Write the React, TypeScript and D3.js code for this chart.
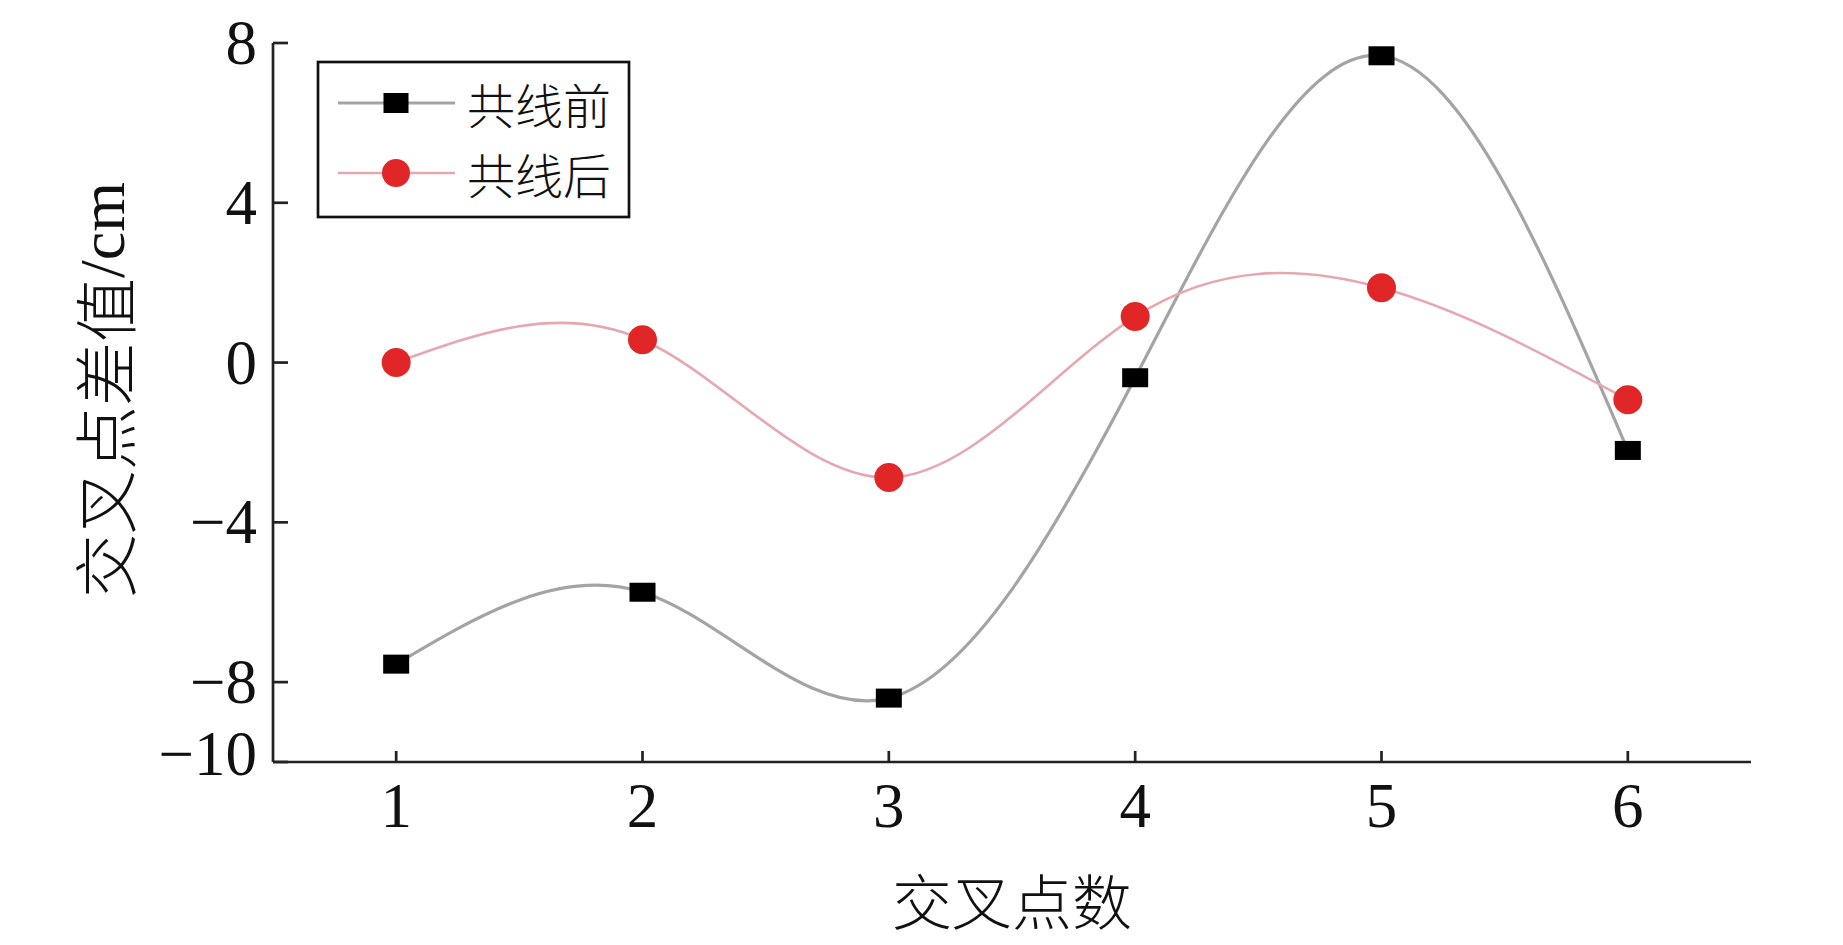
import React from 'react';
import * as d3 from 'd3';

// crossing point index
const points = [1, 2, 3, 4, 5, 6];
// 共线前 (before), cm
const before = [-7.55, -5.75, -8.4, -0.38, 7.68, -2.2];
// 共线后 (after), cm
const after = [0.0, 0.57, -2.88, 1.15, 1.87, -0.93];
const yTicks = [8, 4, 0, -4, -8, -10];

const W = 1843;
const H = 945;
const margin = { left: 273, right: 92, top: 43, bottom: 183 };

const CJK = '"Noto Sans CJK SC", "Noto Sans CJK JP", sans-serif';
const SERIF = '"Liberation Serif", "Times New Roman", serif';

export default function App() {
  const x = d3.scaleLinear().domain([0.5, 6.5]).range([margin.left, W - margin.right]);
  const y = d3.scaleLinear().domain([-10, 8]).range([H - margin.bottom, margin.top]);

  const line = d3
    .line<number>()
    .x((_, i) => x(points[i]))
    .y((d) => y(d))
    .curve(d3.curveNatural);

  const x0 = x.range()[0];
  const x1 = x.range()[1];
  const yb = y.range()[0];
  const yt = y.range()[1];

  const greyLine = '#a4a4a4';
  const pinkLine = '#e6a8b0';
  const red = '#e02626';

  const legend = { x: 318, y: 62, w: 311, h: 155 };
  const rows = [
    { label: '共线前', ly: 103, kind: 'square' },
    { label: '共线后', ly: 173, kind: 'circle' },
  ];

  return (
    <svg width={W} height={H} style={{ position: 'absolute', left: 0, top: 0, background: '#fff' }}>
      {/* series lines */}
      <path d={line(before) ?? ''} fill="none" stroke={greyLine} strokeWidth={3.2} />
      <path d={line(after) ?? ''} fill="none" stroke={pinkLine} strokeWidth={2.6} />

      {/* markers */}
      {before.map((v, i) => (
        <rect key={'b' + i} x={x(points[i]) - 13} y={y(v) - 9.5} width={26} height={19} fill="#000" />
      ))}
      {after.map((v, i) => (
        <circle key={'a' + i} cx={x(points[i])} cy={y(v)} r={14.5} fill={red} />
      ))}

      {/* axes */}
      <line x1={x0} x2={x1} y1={yb} y2={yb} stroke="#222" strokeWidth={2.7} />
      <line x1={x0} x2={x0} y1={yt} y2={yb} stroke="#222" strokeWidth={2.7} />
      {points.map((p) => (
        <g key={'xt' + p}>
          <line x1={x(p)} x2={x(p)} y1={yb} y2={yb - 11} stroke="#222" strokeWidth={2.7} />
          <text
            x={x(p)}
            y={827}
            textAnchor="middle"
            fontFamily={SERIF}
            fontSize={63}
            fill="#111"
          >
            {p}
          </text>
        </g>
      ))}
      {yTicks.map((t) => (
        <g key={'yt' + t}>
          <line x1={x0} x2={x0 + 15} y1={y(t)} y2={y(t)} stroke="#222" strokeWidth={2.7} />
          <text
            x={x0 - 16}
            y={t === -10 ? y(t) - 8 : y(t)}
            textAnchor="end"
            dominantBaseline="central"
            fontFamily={SERIF}
            fontSize={63}
            fill="#111"
          >
            {t < 0 ? '\u2212' + Math.abs(t) : t}
          </text>
        </g>
      ))}

      {/* axis titles */}
      <text
        x={(x0 + x1) / 2}
        y={898}
        textAnchor="middle"
        dominantBaseline="central"
        fontFamily={CJK}
        fontWeight={300}
        fontSize={60}
        fill="#111"
      >
        交叉点数
      </text>
      <text
        transform={`translate(102,390) rotate(-90)`}
        textAnchor="middle"
        dominantBaseline="central"
        fontSize={64}
        fill="#111"
      >
        <tspan fontFamily={CJK} fontWeight={300}>交叉点差值</tspan>
        <tspan fontFamily={SERIF}>/cm</tspan>
      </text>

      {/* legend */}
      <rect
        x={legend.x}
        y={legend.y}
        width={legend.w}
        height={legend.h}
        fill="#fff"
        stroke="#111"
        strokeWidth={2.7}
      />
      {rows.map((r) => (
        <g key={r.label}>
          <line
            x1={338}
            x2={455}
            y1={r.ly}
            y2={r.ly}
            stroke={r.kind === 'square' ? greyLine : pinkLine}
            strokeWidth={r.kind === 'square' ? 3.2 : 2.6}
          />
          {r.kind === 'square' ? (
            <rect x={396 - 12.5} y={r.ly - 10} width={25} height={20} fill="#000" />
          ) : (
            <circle cx={396} cy={r.ly} r={14} fill={red} />
          )}
          <text
            x={467}
            y={r.ly}
            dominantBaseline="central"
            fontFamily={CJK}
            fontWeight={300}
            fontSize={48}
            fill="#111"
          >
            {r.label}
          </text>
        </g>
      ))}
    </svg>
  );
}
